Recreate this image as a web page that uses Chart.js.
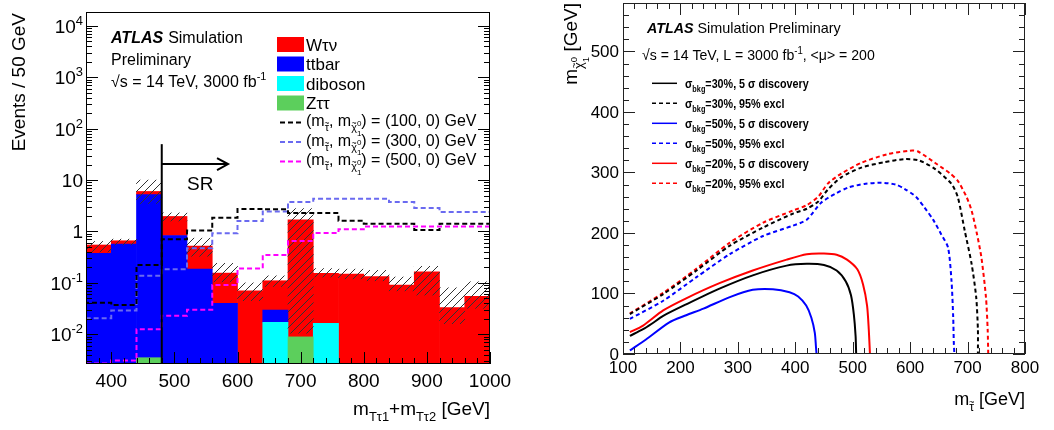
<!DOCTYPE html>
<html><head><meta charset="utf-8">
<script src="https://cdn.jsdelivr.net/npm/chart.js@4.4.0/dist/chart.umd.min.js"></script>
<style>
html,body{margin:0;padding:0;background:#fff;}
#wrap{position:relative;width:1054px;height:430px;background:#fff;}
canvas{position:absolute;top:0;}
</style>
</head><body>
<div id="wrap">
<canvas id="c1" width="520" height="430" style="left:0"></canvas>
<canvas id="c2" width="534" height="430" style="left:520px"></canvas>
</div>
<script>
// ---------------- LEFT PANEL DATA ----------------
const binEdges   = [360,400,440,480,520,560,600,640,680,720,760,800,840,880,920,960,1000];
const binCenters = [380,420,460,500,540,580,620,660,700,740,780,820,860,900,940,980];
const zTauTau  = [0,0,0.0035,0,0,0,0,0,0.0089,0,0,0,0,0,0,0];
const diboson  = [0,0,0,0,0,0,0,0.017,0,0.0163,0,0,0,0,0,0];
const ttbar    = [0.377,0.57,5.2,0.835,0.185,0.040,0,0.0126,0,0,0,0,0,0,0,0];
const wTauNu   = [0.169,0.09,0.8,1.125,0.335,0.115,0.07,0.0804,1.681,0.1377,0.148,0.132,0.091,0.164,0.033,0.055];
const errLow   = [0.40,0.55,3.5,1.6,0.33,0.105,0.045,0.085,0.0105,0.13,0.12,0.11,0.07,0.058,0.016,0.032];
const errHigh  = [0.64,0.71,10,2.3,0.74,0.24,0.10,0.137,2.8,0.19,0.185,0.175,0.13,0.21,0.08,0.105];
const sig100   = [0.045,0.041,0.037,0.223,0.705,1.04,1.85,2.75,2.7,2.28,2.28,1.62,1.41,1.41,1.07,1.41];
const sig300   = [0.0141,0.0205,0.029,0.137,0.184,0.47,0.92,1.6,2.46,3.75,4.35,4.35,4.35,3.75,2.86,2.39];
const sig500   = [0.0027,0.0027,0.0031,0.0125,0.023,0.030,0.091,0.19,0.35,0.65,0.93,1.1,1.25,1.25,1.25,1.25];
const leftXTicks = [400,500,600,700,800,900,1000];
const leftYDecades = [-2,-1,0,1,2,3,4];
const srCut = 480, srLineTop = 50, srArrowLevel = 20.5, srArrowEnd = 585, srTextX = 520, srTextY = 6.3;

// ---------------- RIGHT PANEL DATA ----------------
const disc30X = [112,135,150,170,210,268,326,385,420,450,472,488,497,502,505,506];
const disc30Y = [30,41,50,63,82,108,130,146,149,147,138,120,97,65,30,0];
const excl30X = [112,170,228,286,344,396,420,440,457,480,515,555,590,615,643,672,683,695,707,715,718,718];
const excl30Y = [66,99,138,179,209,232,240,252,272,292,308,317,322,320,306,281,259,204,149,94,40,0];
const disc50X = [112,140,180,210,240,286,326,361,390,405,419,428,434,436,437];
const disc50Y = [6,24,52,64,75,94,106,107,102,95,80,60,35,12,0];
const excl50X = [112,170,228,286,344,396,420,445,470,492,520,550,575,590,610,625,640,654,666,672,675,676,677];
const excl50Y = [58,88,127,165,195,212,222,250,265,275,281,283,280,273,260,242,222,198,176,121,60,20,0];
const disc20X = [112,135,170,210,268,326,385,420,450,472,490,508,518,525,528,530];
const disc20Y = [36,47,72,92,117,138,156,165,166,164,156,140,115,80,40,0];
const excl20X = [112,170,228,286,344,396,420,440,457,480,515,560,599,613,643,670,683,698,707,716,724,732,735,736];
const excl20Y = [67,101,141,184,217,237,246,260,282,298,316,330,336,335,316,298,286,260,237,200,160,94,40,0];
const rightXTicks = [100,200,300,400,500,600,700,800];
const rightYTicks = [0,100,200,300,400,500];

// ---------------- helpers ----------------
const FF = '"Liberation Sans", Arial, Helvetica, sans-serif';
function fnt(sz,b,i){return (i?'italic ':'')+(b?'bold ':'')+sz.toFixed(2)+'px '+FF;}
const MODES = {'':[1,0], sub:[0.68,0.32], sup:[0.68,-0.42], ss:[0.5,0.62], sp:[0.5,-0.02]};
function drawRich(ctx,x,y,parts,size,opt){
  opt=opt||{};
  const sx = opt.sx||1;
  let w=0; const out=[];
  for(const p of parts){
    const md=MODES[p.m||''];
    const sz=size*md[0];
    ctx.font=fnt(sz, p.b!==undefined?p.b:opt.bold, p.i);
    const tw=ctx.measureText(p.t).width;
    out.push({p,sz,dy:md[1]*size,x:w,tw});
    if(!p.stay) w+=tw;
  }
  const W=w*sx;
  let x0 = opt.align==='right'? x-W : opt.align==='center'? x-W/2 : x;
  ctx.save();
  ctx.translate(x0,y); ctx.scale(sx,1);
  ctx.fillStyle=opt.color||'#000'; ctx.textAlign='left'; ctx.textBaseline='alphabetic';
  for(const o of out){
    ctx.font=fnt(o.sz, o.p.b!==undefined?o.p.b:opt.bold, o.p.i);
    ctx.fillText(o.p.t,o.x,o.dy);
    if(o.p.tilde){
      ctx.font=fnt(o.sz*0.75,false,false);
      const tw2=ctx.measureText('~').width;
      ctx.fillText('~',o.x+o.tw/2-tw2/2,o.dy-o.sz*0.45);
    }
  }
  ctx.restore();
  return W;
}
function seg(ctx,x1,y1,x2,y2){ctx.beginPath();ctx.moveTo(x1,y1);ctx.lineTo(x2,y2);ctx.stroke();}
function stepPoints(vals){
  const pts=vals.map((v,i)=>({x:binEdges[i],y:v}));
  pts.push({x:binEdges[binEdges.length-1],y:vals[vals.length-1]});
  return pts;
}
function curve(xs,ys){return xs.map((x,i)=>({x,y:ys[i]}));}
function hatchPattern(){
  const c=document.createElement('canvas'); c.width=8; c.height=8;
  const g=c.getContext('2d');
  g.strokeStyle='#333'; g.lineWidth=1;
  g.beginPath(); g.moveTo(0,8); g.lineTo(8,0); g.moveTo(-2,2); g.lineTo(2,-2); g.moveTo(6,10); g.lineTo(10,6); g.stroke();
  return g.createPattern(c,'repeat');
}
const chiParts = [{t:'χ',m:'sub',tilde:true},{t:'1',m:'ss',stay:true},{t:'0',m:'sp'}];

// ---------------- LEFT CHART ----------------
const leftDeco = {
  id:'leftDeco',
  afterDraw(chart){
    const ctx=chart.ctx, a=chart.chartArea, xs=chart.scales.x, ys=chart.scales.y;
    ctx.save();
    ctx.strokeStyle='#000'; ctx.lineWidth=1;
    for(let v=binEdges[0]; v<=binEdges[binEdges.length-1]; v+=20){
      const px=Math.round(xs.getPixelForValue(v))+0.5;
      seg(ctx,px,a.bottom,px,a.bottom-(v%100===0?12:6));
    }
    for(let d=-3; d<=4; d++) for(let m=1;m<=9;m++){
      const v=m*Math.pow(10,d);
      if(v<ys.min||v>ys.max) continue;
      const py=Math.round(ys.getPixelForValue(v))+0.5;
      const L=m===1?12:6;
      seg(ctx,a.left,py,a.left+L,py); seg(ctx,a.right,py,a.right-L,py);
    }
    ctx.strokeRect(a.left+0.5,a.top+0.5,a.right-a.left-1,a.bottom-a.top-1);
    for(const d of leftYDecades){
      const py=ys.getPixelForValue(Math.pow(10,d));
      const parts = d===0?[{t:'1'}]: d===1?[{t:'10'}]:[{t:'10'},{t:String(d),m:'sup'}];
      drawRich(ctx,a.left-3,py+7,parts,19,{align:'right'});
    }
    for(const v of leftXTicks){
      const px=xs.getPixelForValue(v);
      drawRich(ctx,px,387,[{t:String(v)}],19,{align:'center'});
    }
    drawRich(ctx,a.right,415,[{t:'m'},{t:'Tτ1',m:'sub'},{t:'+m'},{t:'Tτ2',m:'sub'},{t:' [GeV]'}],19,{align:'right'});
    ctx.save(); ctx.translate(25,13); ctx.rotate(-Math.PI/2);
    drawRich(ctx,0,0,[{t:'Events / 50 GeV'}],19,{align:'right'});
    ctx.restore();
    const sx=xs.getPixelForValue(srCut);
    ctx.lineWidth=2; ctx.strokeStyle='#000';
    seg(ctx,sx,ys.getPixelForValue(srLineTop),sx,a.bottom);
    const ay=ys.getPixelForValue(srArrowLevel), ax=xs.getPixelForValue(srArrowEnd);
    seg(ctx,sx,ay,ax,ay);
    ctx.beginPath(); ctx.moveTo(ax-11,ay-6); ctx.lineTo(ax,ay); ctx.lineTo(ax-11,ay+6); ctx.stroke();
    drawRich(ctx,xs.getPixelForValue(srTextX),ys.getPixelForValue(srTextY),[{t:'SR'}],19);
    let w=drawRich(ctx,111,43,[{t:'ATLAS',b:true,i:true}],16);
    drawRich(ctx,111+w+5,43,[{t:'Simulation'}],16);
    drawRich(ctx,111,65,[{t:'Preliminary'}],16);
    drawRich(ctx,111,87,[{t:'√s = 14 TeV, 3000 fb'},{t:'-1',m:'sup'}],16);
    const ds=chart.data.datasets;
    const boxRows=[[ 'Wτν',3,44.5],['ttbar',2,64],['diboson',1,83.5],['Zττ',0,103]];
    for(const [lab,idx,cy] of boxRows){
      ctx.fillStyle=ds[idx].backgroundColor;
      ctx.fillRect(277,cy-7.5,27,15);
      drawRich(ctx,306,cy+6,[{t:lab}],17);
    }
    const lineRows=[[5,'100',122.5],[6,'300',142],[7,'500',161.5]];
    for(const [idx,m,cy] of lineRows){
      ctx.strokeStyle=ds[idx].borderColor; ctx.lineWidth=2; ctx.setLineDash(ds[idx].borderDash);
      seg(ctx,280,cy,304,cy); ctx.setLineDash([]);
      drawRich(ctx,306,cy+3.5,[{t:'(m'},{t:'τ',m:'sub',tilde:true},{t:', m'},...chiParts,{t:') = ('+m+', 0) GeV'}],16);
    }
    ctx.restore();
  }
};

const hatch = hatchPattern();
const barPts = vals => vals.map((v,i)=>({x:binCenters[i],y:v}));
new Chart(document.getElementById('c1'),{
  type:'bar',
  data:{datasets:[
    {label:'Zττ', data:barPts(zTauTau), backgroundColor:'#5ccf5c', stack:'bkg', order:3},
    {label:'diboson', data:barPts(diboson), backgroundColor:'#00ffff', stack:'bkg', order:3},
    {label:'ttbar', data:barPts(ttbar), backgroundColor:'#0000ff', stack:'bkg', order:3},
    {label:'Wτν', data:barPts(wTauNu), backgroundColor:'#ff0000', stack:'bkg', order:3},
    {label:'unc', data:binCenters.map((c,i)=>({x:c,y:[errLow[i],errHigh[i]]})), backgroundColor:hatch, stack:'err', grouped:false, order:2},
    {type:'line', label:'100', data:stepPoints(sig100), borderColor:'#000000', borderDash:[5,3], borderWidth:2, stepped:'after', pointRadius:0, fill:false, stack:'s1', order:1},
    {type:'line', label:'300', data:stepPoints(sig300), borderColor:'#6a6af0', borderDash:[5,3], borderWidth:2, stepped:'after', pointRadius:0, fill:false, stack:'s2', order:1},
    {type:'line', label:'500', data:stepPoints(sig500), borderColor:'#ff00ff', borderDash:[5,3], borderWidth:2, stepped:'after', pointRadius:0, fill:false, stack:'s3', order:1}
  ]},
  options:{
    responsive:false, animation:false, devicePixelRatio:1,
    barPercentage:1, categoryPercentage:1, borderWidth:0,
    layout:{padding:{left:86,right:30,top:12,bottom:66}},
    plugins:{legend:{display:false},tooltip:{enabled:false}},
    scales:{
      x:{type:'linear',min:360,max:1000,offset:false,stacked:true,display:false,
         afterBuildTicks:s=>{s.ticks=binEdges.map(v=>({value:v}));}},
      y:{type:'logarithmic',min:0.00264,max:18630,stacked:true,display:false}
    }
  },
  plugins:[leftDeco]
});

// ---------------- RIGHT CHART ----------------
const rightDeco = {
  id:'rightDeco',
  afterDraw(chart){
    const ctx=chart.ctx, a=chart.chartArea, xs=chart.scales.x, ys=chart.scales.y;
    ctx.save();
    ctx.strokeStyle='#222'; ctx.lineWidth=1;
    for(let v=100; v<=800; v+=20){
      const px=Math.round(xs.getPixelForValue(v))+0.5, L=v%100===0?12:6;
      seg(ctx,px,a.bottom,px,a.bottom-L); seg(ctx,px,a.top,px,a.top+L);
    }
    for(let v=0; v<=580; v+=20){
      const py=Math.round(ys.getPixelForValue(v))+0.5, L=v%100===0?12:6;
      seg(ctx,a.left,py,a.left+L,py); seg(ctx,a.right,py,a.right-L,py);
    }
    ctx.strokeRect(a.left+0.5,a.top+0.5,a.right-a.left-1,a.bottom-a.top-1);
    for(const v of rightYTicks){
      drawRich(ctx,a.left-4,ys.getPixelForValue(v)+6,[{t:String(v)}],17,{align:'right'});
    }
    for(const v of rightXTicks){
      drawRich(ctx,xs.getPixelForValue(v),373,[{t:String(v)}],17,{align:'center'});
    }
    drawRich(ctx,a.right,405,[{t:'m'},{t:'τ',m:'sub',tilde:true},{t:' [GeV]'}],18,{align:'right'});
    ctx.save(); ctx.translate(57,3); ctx.rotate(-Math.PI/2);
    drawRich(ctx,0,0,[{t:'m'},...chiParts,{t:' [GeV]'}],19,{align:'right'});
    ctx.restore();
    let w=drawRich(ctx,127,33,[{t:'ATLAS',b:true,i:true}],15,{sx:0.95});
    drawRich(ctx,127+w+4,33,[{t:'Simulation Preliminary'}],15,{sx:0.96});
    drawRich(ctx,122,60,[{t:'√s = 14 TeV, L = 3000 fb'},{t:'-1',m:'sup'},{t:', <μ> = 200'}],15,{sx:0.94});
    const ds=chart.data.datasets;
    const rows=[[0,'30%','5 σ discovery'],[1,'30%','95% excl'],[2,'50%','5 σ discovery'],[3,'50%','95% excl'],[4,'20%','5 σ discovery'],[5,'20%','95% excl']];
    rows.forEach(([idx,p,k],r)=>{
      const cy=83.3+r*20;
      ctx.strokeStyle=ds[idx].borderColor; ctx.lineWidth=1.5; ctx.setLineDash(ds[idx].borderDash);
      seg(ctx,132,cy,157,cy); ctx.setLineDash([]);
      drawRich(ctx,165,cy+4.5,[{t:'σ'},{t:'bkg',m:'sub'},{t:'='+p+', '+k}],12.5,{bold:true,sx:0.86});
    });
    ctx.restore();
  }
};
const lineDs=(lab,xs,ys,color,dash)=>({label:lab,data:curve(xs,ys),showLine:true,borderColor:color,borderDash:dash,borderWidth:2,pointRadius:0,tension:0.25,fill:false});
new Chart(document.getElementById('c2'),{
  type:'scatter',
  data:{datasets:[
    lineDs('30% disc',disc30X,disc30Y,'#000000',[]),
    lineDs('30% excl',excl30X,excl30Y,'#000000',[4,3]),
    lineDs('50% disc',disc50X,disc50Y,'#0000ff',[]),
    lineDs('50% excl',excl50X,excl50Y,'#0000ff',[4,3]),
    lineDs('20% disc',disc20X,disc20Y,'#ff0000',[]),
    lineDs('20% excl',excl20X,excl20Y,'#ff0000',[4,3])
  ]},
  options:{
    responsive:false, animation:false, devicePixelRatio:1,
    layout:{padding:{left:103,right:29,top:3,bottom:76}},
    plugins:{legend:{display:false},tooltip:{enabled:false}},
    scales:{
      x:{type:'linear',min:100,max:800,display:false},
      y:{type:'linear',min:0,max:580,display:false}
    }
  },
  plugins:[rightDeco]
});
</script>
</body></html>
